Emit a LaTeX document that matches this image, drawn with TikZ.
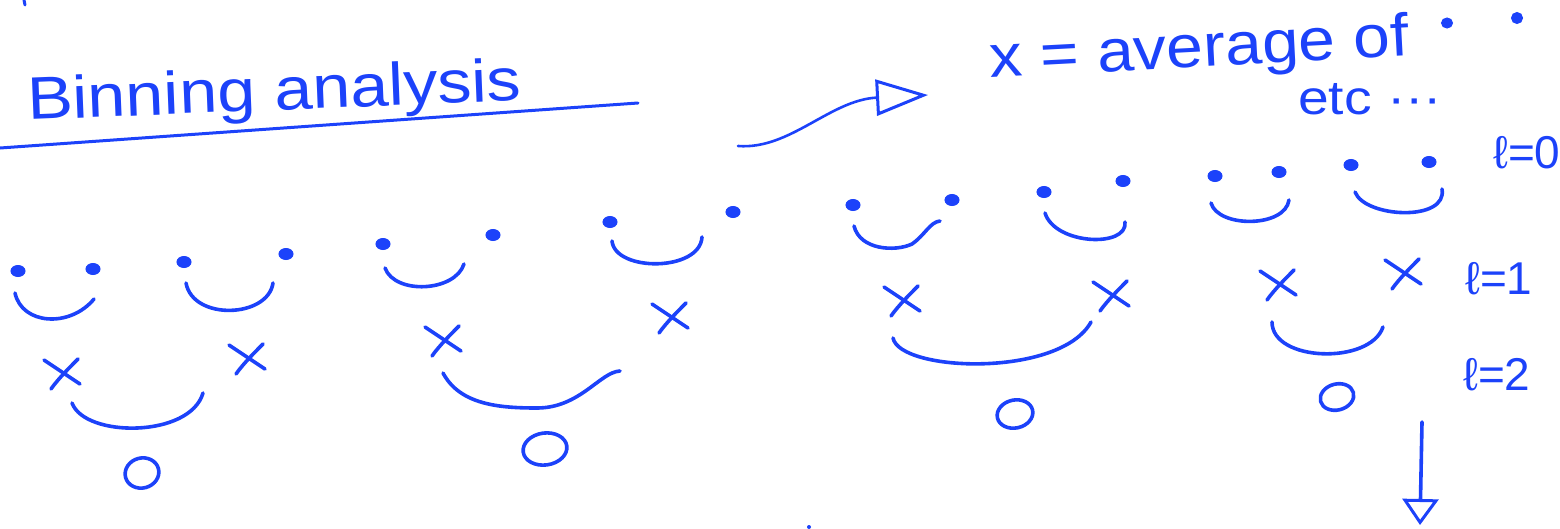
\documentclass[tikz,border=0pt]{standalone}
\usepackage{fontspec}
\newfontfamily\hand{Liberation Sans}
\usetikzlibrary{shapes.geometric,arrows.meta}
\definecolor{ink}{RGB}{28,66,250}
\begin{document}
\begin{tikzpicture}[x=1pt,y=-1pt,
  pen/.style={draw=ink, line width=3.6pt, line cap=round, line join=round},
  dotn/.style={ellipse, fill=ink, draw=ink, line width=1pt, minimum width=14pt, minimum height=11pt, inner sep=0pt},
  onode/.style={ellipse, draw=ink, line width=3.6pt, inner sep=0pt},
  txt/.style={text=ink, inner sep=0pt},
  lvl/.style={txt, anchor=base west, font=\hand\fontsize{46}{46}\selectfont},
  xmark/.pic={\draw[pen] (-18,-13) -- (18,11); \draw[pen] (16,-14) .. controls (8,-6) and (-4,6) .. (-11,16);},
  openhead/.style={-{Triangle[open, length=#1, width=36pt, line width=3pt]}}
]
\useasboundingbox (0,0) rectangle (1560,528);

% title
\node[txt, anchor=base west, rotate=2.3, font=\hand\fontsize{60}{60}\selectfont] (title) at (28,120) {\scalebox{1.14}[1]{Binning analysis}};
\draw[pen, line width=3pt] (0,148) -- (638,103);

% explanatory texts
\node[txt, anchor=base west, rotate=3, font=\hand\fontsize{60}{60}\selectfont] (avg) at (990,78) {\scalebox{1.1}[1]{x = average of}};
\node[dotn, minimum width=11pt, minimum height=10pt] (k1) at (1447,23) {};
\node[dotn, minimum width=11pt, minimum height=11pt] (k2) at (1517,18) {};
\node[txt, anchor=base west, font=\hand\fontsize{48}{48}\selectfont] (etc) at (1298,114) {\scalebox{1.15}[1]{etc ···}};
\node[lvl] (l0) at (1493,168) {ℓ=0};
\node[lvl] (l1) at (1465,294) {ℓ=1};
\node[lvl] (l2) at (1463,390) {ℓ=2};

% curved arrow
\coordinate (ca) at (738,146);
\coordinate (cb) at (928,95);
\draw[pen, line width=2.6pt, openhead=52pt] (ca) .. controls (790,150) and (830,100) .. (cb);
% down arrow
\coordinate (da) at (1422,422);
\coordinate (db) at (1420,525);
\draw[pen, openhead=26pt] (da) -- (db);

% level 0 dots
\foreach \n/\p in {a1/{18,271},a2/{93,269},a3/{184,262},a4/{286,254},
                   b1/{383,244},b2/{493,235},b3/{610,222},b4/{733,212},
                   c1/{853,205},c2/{952,200},c3/{1044,192},c4/{1123,181},
                   d1/{1215,176},d2/{1279,172},d3/{1351,165},d4/{1429,162}}
  \node[dotn] (\n) at (\p) {};

% level 0 smiles
\draw[pen] (15,293) .. controls (22,325) and (70,328) .. (94,299);
\draw[pen] (186,283) .. controls (193,321) and (268,318) .. (273,283);
\draw[pen] (385,268) .. controls (395,295) and (455,292) .. (464,264);
\draw[pen] (612,241) .. controls (615,272) and (700,272) .. (702,237);
\draw[pen] (854,226) .. controls (860,250) and (895,252) .. (912,244) .. controls (925,235) and (930,222) .. (940,221);
\draw[pen] (1045,213) .. controls (1055,245) and (1128,248) .. (1125,222);
\draw[pen] (1211,203) .. controls (1218,228) and (1285,228) .. (1289,200);
\draw[pen] (1355,192) .. controls (1365,218) and (1448,222) .. (1442,189);

% level 1 crosses
\pic (xa1) at (62,373) {xmark};
\pic (xa2) at (247,358) {xmark};
\pic (xb1) at (443,340) {xmark};
\pic (xb2) at (670,317) {xmark};
\pic (xc1) at (902,300) {xmark};
\pic (xc2) at (1111,295) {xmark};
\pic (xd1) at (1278,284) {xmark};
\pic (xd2) at (1403,273) {xmark};

% level 1 smiles
\draw[pen] (72,403) .. controls (85,438) and (190,438) .. (203,393);
\draw[pen] (443,373) .. controls (460,405) and (500,408) .. (537,408) .. controls (580,408) and (600,372) .. (620,371);
\draw[pen] (893,338) .. controls (900,372) and (1060,378) .. (1091,322);
\draw[pen] (1272,322) .. controls (1272,362) and (1370,365) .. (1383,327);

% level 2 circles
\node[onode, minimum width=34pt, minimum height=30pt, rotate=15] (oa) at (142,473) {};
\node[onode, minimum width=44pt, minimum height=32pt, rotate=8] (ob) at (545,449) {};
\node[onode, minimum width=36pt, minimum height=28pt, rotate=12] (oc) at (1015,414) {};
\node[onode, minimum width=34pt, minimum height=26pt, rotate=15] (od) at (1337,397) {};

% stray marks
\draw[pen, line width=3pt] (24,0) -- (25,5);
\fill[ink] (809,527) circle [radius=2];
\end{tikzpicture}
\end{document}
